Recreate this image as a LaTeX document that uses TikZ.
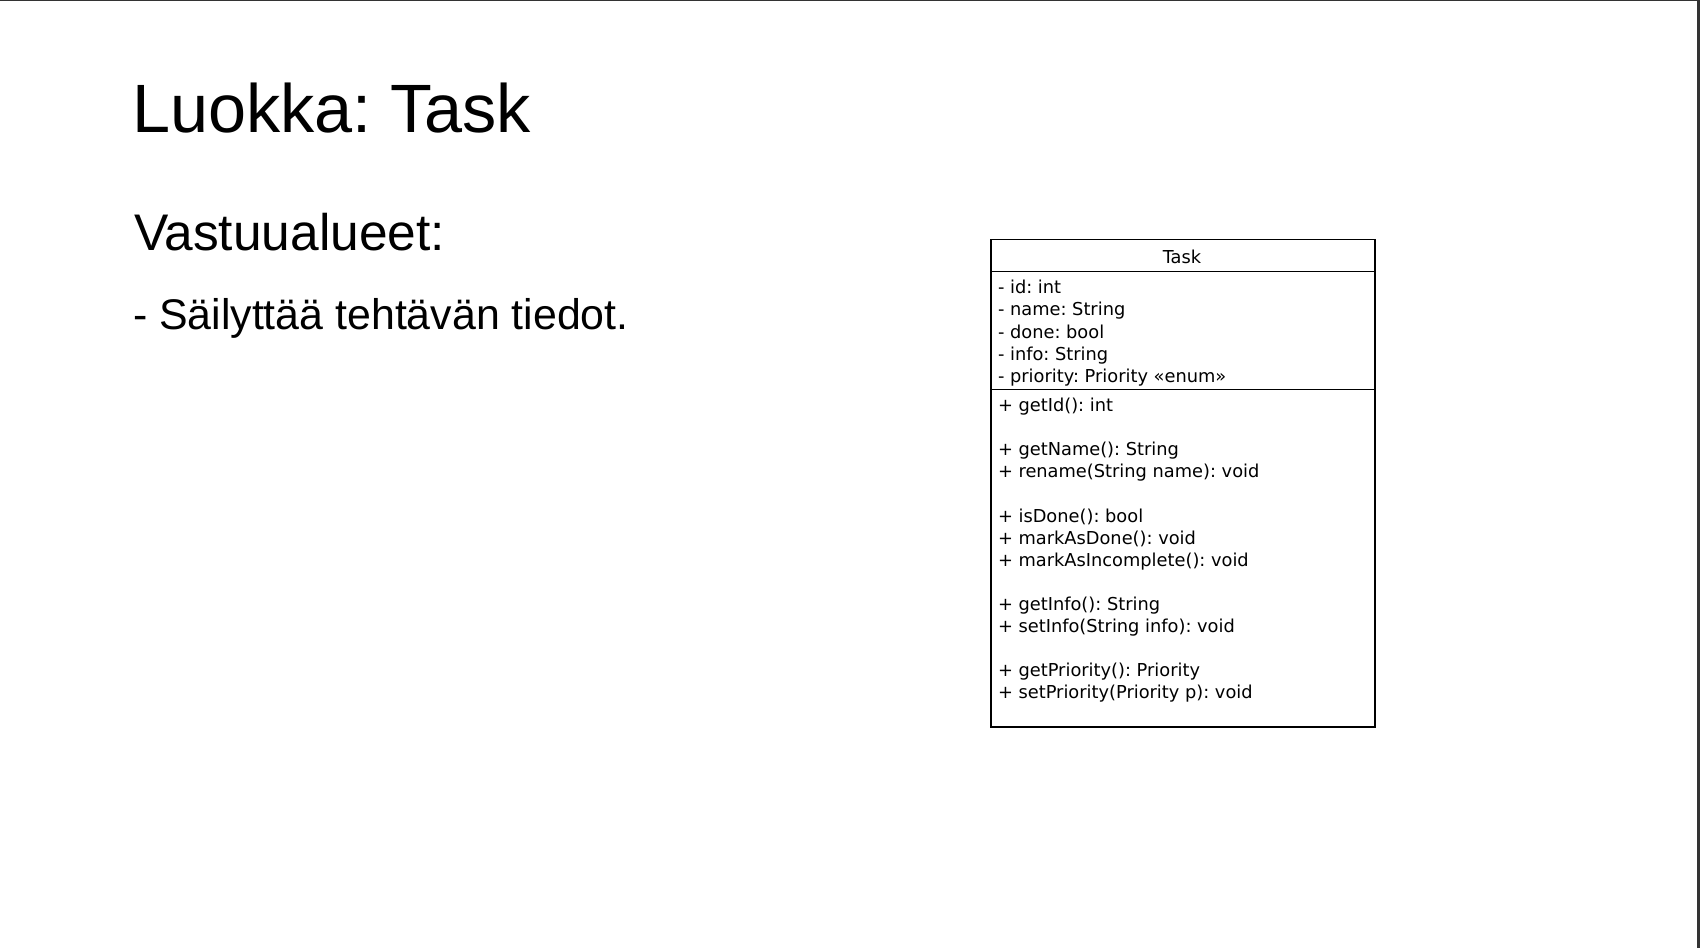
\documentclass[tikz,border=0pt]{standalone}
\usepackage{fontspec}
\setmainfont{Liberation Sans}
\newfontfamily\umlfont{DejaVu Sans}
\definecolor{edgegray}{HTML}{333333}
\frenchspacing
\begin{document}
\frenchspacing
\begin{tikzpicture}[x=0.75pt,y=-0.75pt,
  titletext/.style={anchor=base west, inner sep=0pt, outer sep=0pt, font=\fontsize{51.3}{61}\selectfont},
  headtext/.style={anchor=base west, inner sep=0pt, outer sep=0pt, font=\fontsize{38.6}{46}\selectfont},
  bullettext/.style={anchor=base west, inner sep=0pt, outer sep=0pt, font=\fontsize{32.15}{38}\selectfont},
  compartment/.style={draw=black, line width=1.1pt, anchor=north west, inner sep=0pt, outer sep=0pt, minimum width=288pt},
  umlname/.style={anchor=base, inner sep=0pt, outer sep=0pt, font=\umlfont\fontsize{13.35}{16}\selectfont},
  umlline/.style={anchor=base west, inner sep=0pt, outer sep=0pt, font=\umlfont\fontsize{13.35}{16}\selectfont}
]
\useasboundingbox (0,0) rectangle (1700,948);
\fill[white] (0,0) rectangle (1700,948);
\draw[edgegray, line width=0.75pt] (0,0.5) -- (1700,0.5);
\draw[edgegray, line width=2pt] (1698.65,0) -- (1698.65,948);

% slide text
\node[titletext] (title) at (132,132.5) {Luokka: Task};
\node[headtext] (resp) at (134,251) {Vastuualueet:};
\node[bullettext] (item) at (133,330) {- Säilyttää tehtävän tiedot.};

% UML class
\node[compartment, minimum height=24pt] (hdr) at (991,239.5) {};
\node[compartment, minimum height=88.5pt] (attrs) at (991,271.5) {};
\node[compartment, minimum height=253.1pt] (meths) at (991,389.5) {};

\node[umlname] (cname) at (1182,263.7) {Task};

\foreach \t [count=\i from 0] in {{- id: int},{- name: String},{- done: bool},{- info: String},{- priority: Priority «enum»}}
  \node[umlline] (a\i) at (998,{293.6+22.3*\i}) {\t};

\foreach \k/\t in {0/{+ getId(): int},2/{+ getName(): String},3/{+ rename(String name): void},5/{+ isDone(): bool},6/{+ markAsDone(): void},7/{+ markAsIncomplete(): void},9/{+ getInfo(): String},10/{+ setInfo(String info): void},12/{+ getPriority(): Priority},13/{+ setPriority(Priority p): void}}
  \node[umlline] (m\k) at (998,{411.6+22.1*\k}) {\t};
\end{tikzpicture}
\end{document}
